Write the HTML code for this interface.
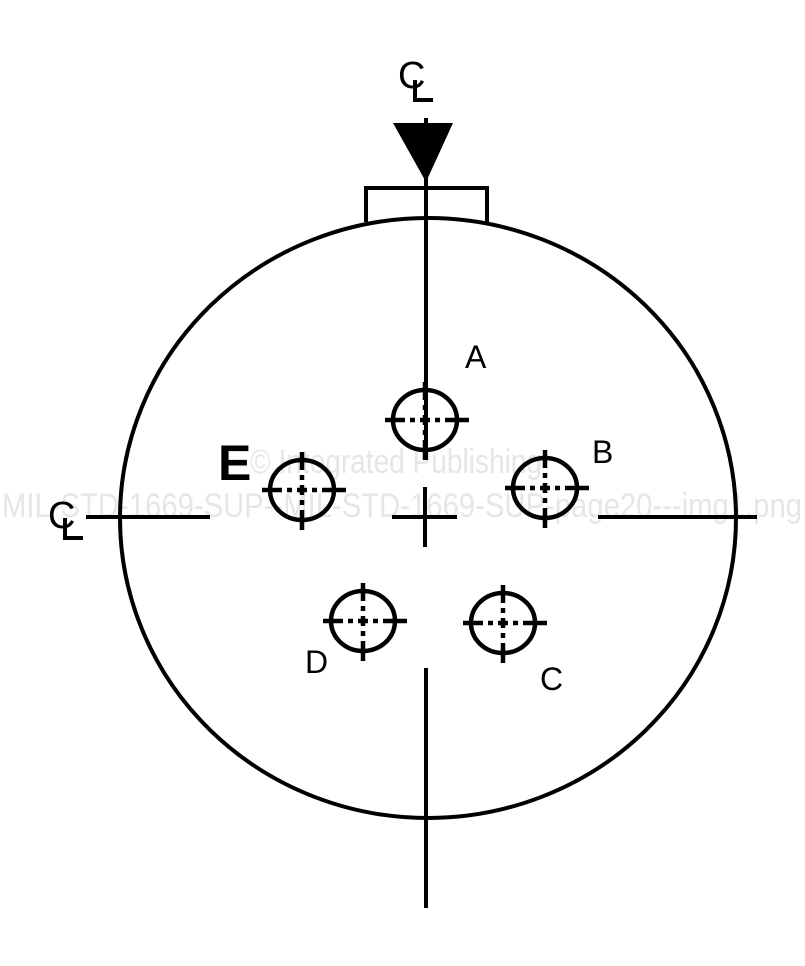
<!DOCTYPE html>
<html><head><style>body{margin:0;background:#fff}svg{display:block}</style></head><body>
<svg width="805" height="966" viewBox="0 0 805 966" xmlns="http://www.w3.org/2000/svg">
<defs>
<g id="h" stroke="#000" stroke-width="4.5" fill="none">
<ellipse cx="0" cy="0" rx="32" ry="30"/>
<path d="M-40 0H-20M-15 0H-10M-5 0H5M10 0H15M20 0H44M0 -38V-20M0 -15V-10M0 -5V5M0 10V15M0 20V40"/>
</g>
</defs>
<text x="250" y="473" font-family="Liberation Sans, sans-serif" font-size="34" fill="#e6e6e6" textLength="292" lengthAdjust="spacingAndGlyphs">© Integrated Publishing</text>
<text x="2" y="517" font-family="Liberation Sans, sans-serif" font-size="34" fill="#e6e6e6" textLength="800" lengthAdjust="spacingAndGlyphs">MIL-STD-1669-SUP--MIL-STD-1669-SUP-page20---img1.png</text>
<g stroke="#000" stroke-width="4" fill="none">
<ellipse cx="428" cy="518" rx="308" ry="300"/>
<path d="M426 118V460M426 668V908"/>
<path d="M366 222V188H487V222"/>
<path d="M86 517H210M598 517H757"/>
<path d="M392 517H457M425 487V547"/>
</g>
<polygon points="393,123 453,123 426,182" fill="#000"/>
<use href="#h" x="425" y="420"/>
<use href="#h" x="545" y="488"/>
<use href="#h" x="302" y="490"/>
<use href="#h" x="363" y="621"/>
<use href="#h" x="503" y="623"/>
<g font-family="Liberation Sans, sans-serif" fill="#000">
<text x="465" y="368" font-size="32">A</text>
<text x="592" y="463" font-size="32">B</text>
<text x="218" y="480" font-size="50" font-weight="bold">E</text>
<text x="305" y="673" font-size="32">D</text>
<text x="540" y="690" font-size="32">C</text>
<text x="398" y="88" font-size="38">C</text>
<text x="48" y="528" font-size="38">C</text>
</g>
<g stroke="#000" stroke-width="4" fill="none">
<path d="M415 80V100H433"/>
<path d="M65 518V538H83"/>
</g>
</svg>
</body></html>
